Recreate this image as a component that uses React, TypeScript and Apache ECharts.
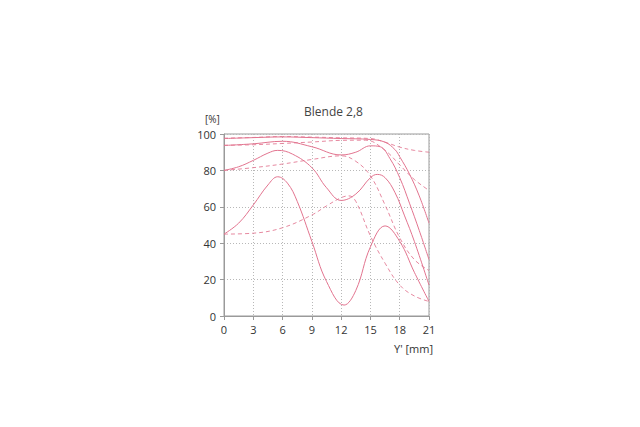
import React, { useEffect, useRef } from "react";
import * as echarts from "echarts";

const titleText = "Blende 2,8";
const xTicks = [0, 3, 6, 9, 12, 15, 18, 21];
const yTicks = [0, 20, 40, 60, 80, 100];

// solid lines (sagittal)
const solid5: number[][] = [[0, 97.5], [3, 98], [6, 98.4], [9, 98], [12, 97.5], [15, 97], [16.5, 95.5], [17.5, 91.5], [18, 87.5], [19, 78], [20, 66], [21, 51]];
const solid10: number[][] = [[0, 93.7], [3, 94.6], [6, 96], [9, 93], [12, 88.5], [13.5, 90], [15, 93.5], [16, 93], [17, 86.5], [18, 76], [19, 62], [20, 47], [21, 31]];
const solid20: number[][] = [[0, 80], [1.5, 82], [3, 85.5], [4.5, 89.5], [5.5, 91], [7, 89], [9, 81.5], [10.5, 70.5], [12, 63.5], [13.5, 67], [15, 76], [15.7, 77.8], [16.5, 76], [17.5, 68], [18.5, 55], [19.5, 41], [21, 17]];
const solid40: number[][] = [[0, 45], [1.5, 51], [3, 61], [4.5, 72], [5.5, 76.5], [6.5, 73], [7.5, 63], [9, 41], [10.5, 19], [12.3, 6], [13.5, 14], [15, 38], [16.5, 49.5], [18, 41], [19.5, 24], [21, 8]];

// dashed lines (tangential)
const dashed5: number[][] = [[0, 97.7], [3, 98.1], [6, 98.6], [9, 98.3], [12, 97.9], [15, 97.5], [16.5, 95.5], [18, 92.8], [19.5, 91], [21, 90]];
const dashed10: number[][] = [[0, 93.8], [3, 94.1], [6, 94.8], [9, 95.6], [12, 96.5], [14.5, 96.6], [16.5, 91], [18, 83], [19.5, 75], [21, 69]];
const dashed20: number[][] = [[0, 80], [3, 81.5], [6, 83.5], [9, 86], [12, 88], [13.5, 85], [15, 77], [16.5, 61], [18, 43], [19.5, 31], [21, 25]];
const dashed40: number[][] = [[0, 45], [3, 45.5], [6, 48.5], [9, 55.5], [10.5, 60.5], [12, 65], [12.8, 66], [13.5, 63], [15, 44], [16.5, 29], [18, 17], [19.5, 11], [21, 8]];

const solidSeries = [solid5, solid10, solid20, solid40];
const dashedSeries = [dashed5, dashed10, dashed20, dashed40];

const lineColor = "#e2748f";
const FONT = "Open Sans";

export default function App() {
  const ref = useRef<HTMLDivElement>(null);
  useEffect(() => {
    if (!ref.current) return;
    const chart = echarts.init(ref.current, null, { renderer: "svg" });
    const series: any[] = [];
    solidSeries.forEach((d, i) => {
      series.push({
        type: "line",
        name: "s" + i,
        data: d,
        smooth: 0.4,
        showSymbol: false,
        lineStyle: { color: lineColor, width: 1, type: "solid" },
      });
    });
    dashedSeries.forEach((d, i) => {
      series.push({
        type: "line",
        name: "t" + i,
        data: d,
        smooth: 0.4,
        showSymbol: false,
        lineStyle: { color: lineColor, width: 1, type: [4, 3], opacity: 0.85 },
      });
    });
    chart.setOption({
      animation: false,
      backgroundColor: "#ffffff",
      grid: {
        left: 224,
        top: 134,
        width: 205,
        height: 182,
        show: true,
        borderColor: "#9a9a9a",
        borderWidth: 1,
      },
      xAxis: {
        type: "value",
        min: xTicks[0],
        max: xTicks[xTicks.length - 1],
        interval: 3,
        axisLine: { show: true, lineStyle: { color: "#9a9a9a" } },
        axisTick: { show: true, length: 4, lineStyle: { color: "#9a9a9a" } },
        axisLabel: { color: "#333", fontSize: 11, fontFamily: FONT, margin: 8 },
        splitLine: { show: true, lineStyle: { color: "#b8b8b8", type: [1, 2], width: 1 } },
      },
      yAxis: {
        type: "value",
        min: yTicks[0],
        max: yTicks[yTicks.length - 1],
        interval: 20,
        axisLine: { show: true, lineStyle: { color: "#9a9a9a" } },
        axisTick: { show: true, length: 4, lineStyle: { color: "#9a9a9a" } },
        axisLabel: { color: "#333", fontSize: 11, fontFamily: FONT, margin: 8 },
        splitLine: { show: true, lineStyle: { color: "#b8b8b8", type: [1, 2], width: 1 } },
      },
      graphic: [
        {
          type: "text",
          left: 304,
          top: 105,
          style: { text: titleText, fill: "#444", fontSize: 12, fontFamily: FONT },
        },
        {
          type: "text",
          left: 205,
          top: 114,
          style: { text: "[%]", fill: "#333", fontSize: 10, fontFamily: FONT },
        },
        {
          type: "text",
          left: 394,
          top: 343,
          style: { text: "Y' [mm]", fill: "#333", fontSize: 11, fontFamily: FONT },
        },
      ],
      series,
    });
    return () => chart.dispose();
  }, []);
  return (
    <div
      ref={ref}
      style={{ position: "fixed", left: 0, top: 0, width: 640, height: 427, background: "#fff" }}
    />
  );
}
